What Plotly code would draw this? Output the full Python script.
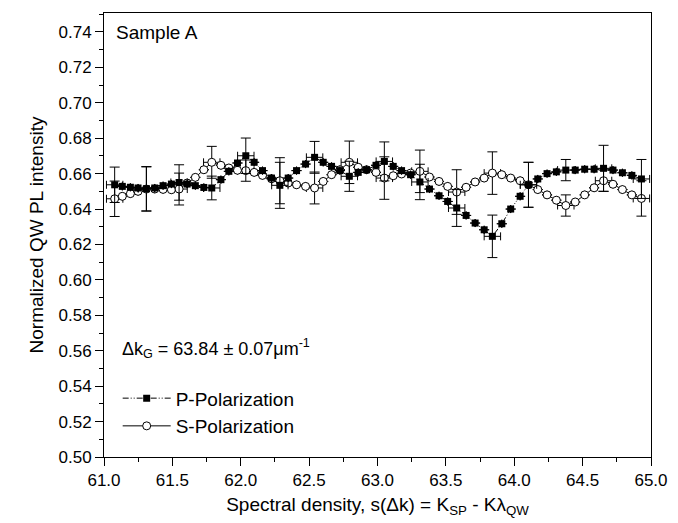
import plotly.graph_objects as go

# Spectral density positions (x)
x_vals = [61.078, 61.134, 61.193, 61.249, 61.310, 61.371, 61.432, 61.493, 61.549, 61.608,
          61.668, 61.730, 61.788, 61.855, 61.913, 61.976, 62.037, 62.098, 62.159, 62.225,
          62.286, 62.347, 62.408, 62.474, 62.540, 62.603, 62.664, 62.725, 62.794, 62.859,
          62.920, 62.989, 63.050, 63.115, 63.176, 63.242, 63.310, 63.380, 63.450, 63.513,
          63.579, 63.648, 63.714, 63.780, 63.840, 63.909, 63.974, 64.043, 64.104, 64.172,
          64.240, 64.308, 64.377, 64.446, 64.515, 64.584, 64.653, 64.722, 64.791, 64.860,
          64.930]

p_vals = [0.6537, 0.6528, 0.6523, 0.6519, 0.6515, 0.6519, 0.6532, 0.6541, 0.6550, 0.6541,
          0.6532, 0.6522, 0.6519, 0.6566, 0.6613, 0.6660, 0.6701, 0.6664, 0.6617, 0.6575,
          0.6534, 0.6575, 0.6617, 0.6654, 0.6692, 0.6664, 0.6641, 0.6617, 0.6585, 0.6607,
          0.6622, 0.6647, 0.6669, 0.6641, 0.6617, 0.6594, 0.6553, 0.6513, 0.6475, 0.6443,
          0.6406, 0.6364, 0.6321, 0.6283, 0.6246, 0.6317, 0.6400, 0.6472, 0.6537, 0.6570,
          0.6600, 0.6610, 0.6620, 0.6620, 0.6625, 0.6625, 0.6630, 0.6620, 0.6605, 0.6590,
          0.6570]

s_vals = [0.6458, 0.6472, 0.6487, 0.6500, 0.6513, 0.6513, 0.6511, 0.6509, 0.6513, 0.6547,
          0.6579, 0.6622, 0.6664, 0.6647, 0.6632, 0.6619, 0.6617, 0.6607, 0.6590, 0.6571,
          0.6560, 0.6547, 0.6537, 0.6528, 0.6519, 0.6556, 0.6594, 0.6622, 0.6664, 0.6636,
          0.6622, 0.6607, 0.6575, 0.6588, 0.6598, 0.6603, 0.6613, 0.6581, 0.6556, 0.6528,
          0.6496, 0.6523, 0.6553, 0.6575, 0.6603, 0.6594, 0.6575, 0.6560, 0.6537, 0.6510,
          0.6480, 0.6450, 0.6420, 0.6440, 0.6480, 0.6520, 0.6560, 0.6540, 0.6510, 0.6480,
          0.6460]

# error bars are shown on every 4th point
err_index = [0, 4, 8, 12, 16, 20, 24, 28, 32, 36, 40, 44, 48, 52, 56, 60]
p_err = [0.0100, 0.0125, 0.0100, 0.0067, 0.0100, 0.0130, 0.0090, 0.0085, 0.0110, 0.0100,
         0.0104, 0.0120, 0.0127, 0.0060, 0.0130, 0.0110]
s_err = [0.0100, 0.0125, 0.0090, 0.0090, 0.0060, 0.0130, 0.0090, 0.0120, 0.0120, 0.0120,
         0.0126, 0.0120, 0.0127, 0.0060, 0.0060, 0.0100]
x_err = 0.06

x_ticks = [61.0, 61.5, 62.0, 62.5, 63.0, 63.5, 64.0, 64.5, 65.0]
y_ticks = [0.50, 0.52, 0.54, 0.56, 0.58, 0.60, 0.62, 0.64, 0.66, 0.68, 0.70, 0.72, 0.74]

def spread(errs):
    arr = [None] * len(x_vals)
    for i, e in zip(err_index, errs):
        arr[i] = e
    return arr

def spread_x():
    arr = [None] * len(x_vals)
    for i in err_index:
        arr[i] = x_err
    return arr

FONT = "Liberation Sans, Arial, Helvetica, sans-serif"

fig = go.Figure()
fig.add_trace(go.Scatter(
    x=x_vals, y=s_vals, mode="lines+markers", name="S-Polarization",
    line=dict(color="black", width=1),
    marker=dict(symbol="circle", size=8, color="white", line=dict(color="black", width=1)),
    error_y=dict(type="data", array=spread(s_err), color="black", thickness=1, width=5),
    error_x=dict(type="data", array=spread_x(), color="black", thickness=1, width=4),
))
fig.add_trace(go.Scatter(
    x=x_vals, y=p_vals, mode="lines+markers", name="P-Polarization",
    line=dict(color="black", width=1, dash="6px,2px,1px,2px,1px,2px"),
    marker=dict(symbol="square", size=7, color="black"),
    error_y=dict(type="data", array=spread(p_err), color="black", thickness=1, width=5),
    error_x=dict(type="data", array=spread_x(), color="black", thickness=1, width=4),
))

fig.add_annotation(x=0.018, y=0.985, xref="paper", yref="paper", xanchor="left", yanchor="top",
                   text="Sample A", showarrow=False, font=dict(size=19, color="black", family=FONT))
fig.add_annotation(x=0.03, y=0.245, xref="paper", yref="paper", xanchor="left", yanchor="middle",
                   text="Δk<sub>G</sub> = 63.84 ± 0.07μm<sup>-1</sup>", showarrow=False,
                   font=dict(size=18, color="black", family=FONT))

fig.update_layout(
    width=678, height=523,
    margin=dict(l=96, r=35, t=5, b=74),
    paper_bgcolor="white", plot_bgcolor="white",
    font=dict(family=FONT, color="black", size=17),
    showlegend=True,
    legend=dict(x=0.025, y=0.175, xanchor="left", yanchor="top", traceorder="reversed",
                bgcolor="rgba(0,0,0,0)", font=dict(size=19, family=FONT), itemwidth=48,
                tracegroupgap=0),
    xaxis=dict(range=[61.0, 65.0], tickvals=x_ticks, ticktext=[f"{v:.1f}" for v in x_ticks],
               ticks="outside", ticklen=8, tickwidth=1, tickcolor="black",
               showline=True, linecolor="black", linewidth=1, mirror=True,
               showgrid=False, zeroline=False,
               minor=dict(ticks="outside", ticklen=4, tickcolor="black", dtick=0.25, showgrid=False),
               tickfont=dict(size=17),
               title=dict(text="Spectral density, s(Δk) = K<sub>SP</sub> - Kλ<sub>QW</sub>",
                          font=dict(size=19), standoff=8)),
    yaxis=dict(range=[0.50, 0.7507], tickvals=y_ticks, ticktext=[f"{v:.2f}" for v in y_ticks],
               ticks="outside", ticklen=8, tickwidth=1, tickcolor="black",
               showline=True, linecolor="black", linewidth=1, mirror=True,
               showgrid=False, zeroline=False,
               minor=dict(ticks="outside", ticklen=4, tickcolor="black", dtick=0.01, showgrid=False),
               tickfont=dict(size=17),
               title=dict(text="Normalized QW PL intensity", font=dict(size=19), standoff=9)),
)

fig.write_html("out.html")
